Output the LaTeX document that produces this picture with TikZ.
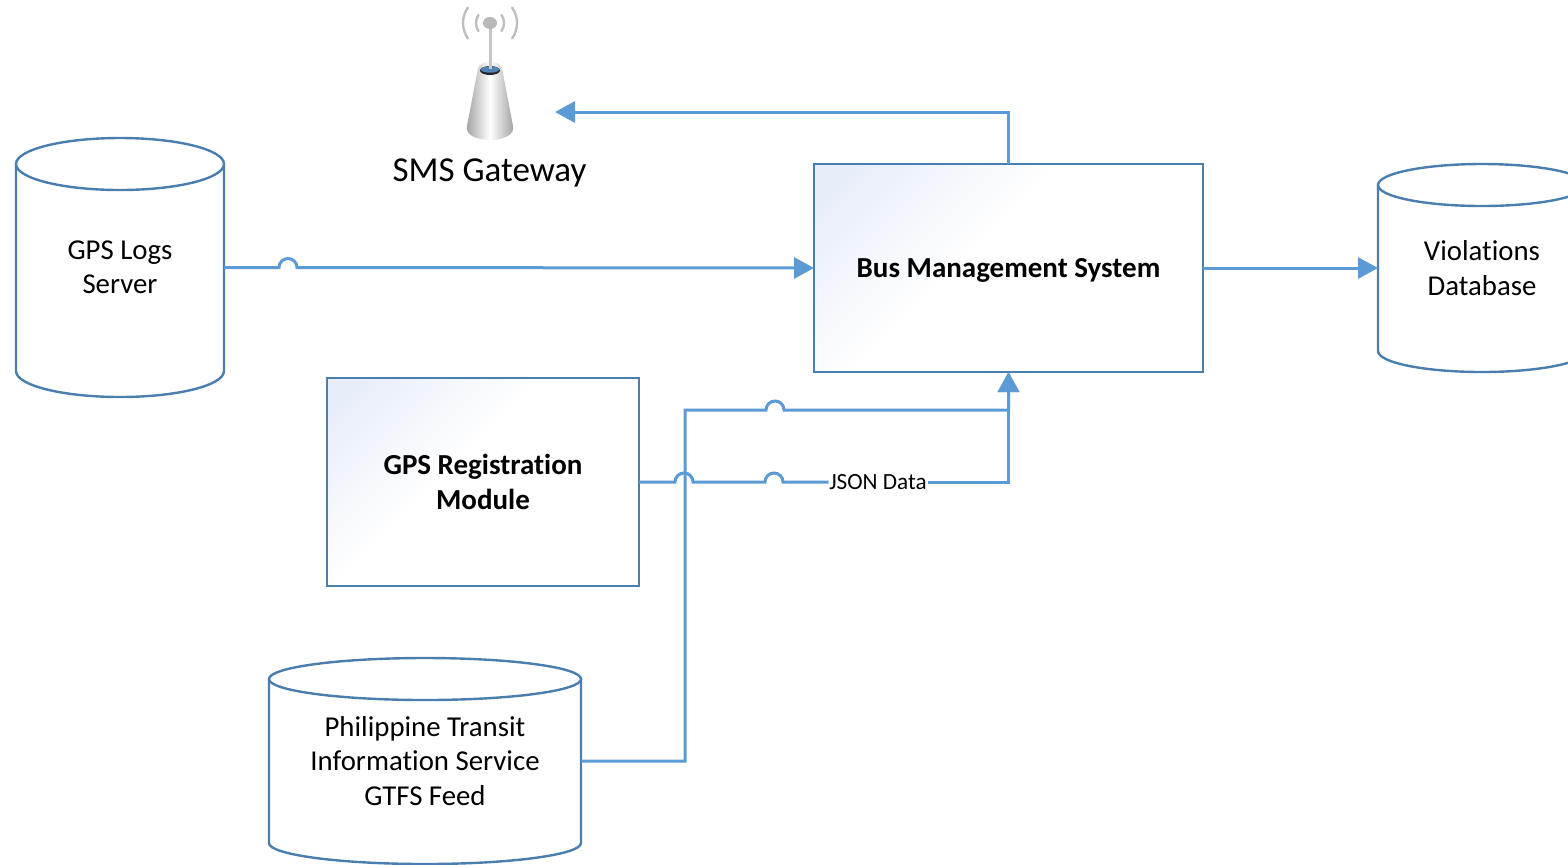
\documentclass[tikz,border=0pt]{standalone}
\usepackage{fontspec}
\setmainfont{Carlito}[RawFeature={-liga}]
\usetikzlibrary{arrows.meta,calc}
\definecolor{conn}{HTML}{5B9BD5}
\definecolor{edge}{HTML}{4A7EAF}
\definecolor{tint}{HTML}{E8EEF9}
\pgfdeclareverticalshading{cornerfade}{100bp}{color(0bp)=(white); color(56bp)=(white); color(80bp)=(tint); color(100bp)=(tint)}
\tikzset{
  conn/.style={draw=conn,line width=1.5pt},
  tip/.style={-{Triangle[length=10pt,width=10.5pt,fill=conn]}},
  cylline/.style={draw=edge,line width=1.2pt,fill=white},
  cyltext/.style={align=center,font=\fontsize{14.4}{17.2}\selectfont,inner sep=0pt,outer sep=0pt},
  procbox/.style={draw=edge,line width=1.2pt,shading=cornerfade,shading angle=45,
    align=center,font=\fontsize{14.5}{17.2}\selectfont\bfseries,inner sep=0pt,outer sep=0pt},
  jsonlabel/.style={font=\fontsize{11.6}{13}\selectfont,inner sep=0.4pt,outer sep=0pt}
}
% name, x1, y1, x2, y2, ry, text
\newcommand\cylshape[7]{%
  \draw[cylline] (#2,#3+#6) -- (#2,#5-#6)
    arc[start angle=180,end angle=0,x radius={(#4-#2)/2},y radius=#6]
    -- (#4,#3+#6);
  \draw[cylline] ({(#2+#4)/2},#3+#6) ellipse[x radius={(#4-#2)/2},y radius=#6];
  \node[cyltext,minimum width={(#4-#2)*0.5pt},minimum height={(#5-#3)*0.5pt}] (#1) at ({(#2+#4)/2},{(#3+#5)/2}) {#7};
}
\begin{document}
\begin{tikzpicture}[x=0.5pt,y=-0.5pt]
\useasboundingbox (0,0) rectangle (1568,864);
\fill[white] (0,0) rectangle (1568,864);

\cylshape{logs}{16}{138}{224}{397}{26}{GPS Logs\\Server}
\cylshape{viol}{1378}{164}{1586}{372}{21}{Violations\\Database}
\cylshape{ptis}{269}{658}{581}{864}{21}{Philippine Transit\\Information Service\\GTFS Feed}

\node[procbox,minimum width=194.5pt,minimum height=104pt] (bms) at (1008.5,268) {\rule{0pt}{12.3pt}Bus Management System};
\node[procbox,minimum width=156pt,minimum height=104pt] (reg) at (483,482) {GPS Registration\\Module};

% SMS gateway icon
\draw[line width=1.2pt,draw=black!25,line cap=round]
  (490,23)++(-35:14) arc[start angle=-35,end angle=35,radius=14]
  (490,23)++(145:14) arc[start angle=145,end angle=215,radius=14]
  (490,23)++(-35:27) arc[start angle=-35,end angle=35,radius=27]
  (490,23)++(145:27) arc[start angle=145,end angle=215,radius=27];
\shade[left color=black!38,right color=black!38,middle color=white]
  (478,68) .. controls (481,60) and (499,60) .. (502,68)
  -- (513,126) .. controls (515,135) and (503,140) .. (490,140)
  .. controls (477,140) and (465,135) .. (467,126) -- cycle;
\fill[black!85] (490,70.5) ellipse[x radius=10,y radius=4.5];
\fill[conn!85!black] (490,69.5) ellipse[x radius=9,y radius=3.2];
\draw[line width=1.5pt,draw=black!22] (490,23) -- (490,69);
\fill[black!28] (490,23) ellipse[x radius=7,y radius=6];
\node[font=\fontsize{17.5}{20}\selectfont,inner sep=0pt] (smslabel) at (489.5,173) {SMS Gateway};
\coordinate (smsin) at (555,112);

\node[jsonlabel] (json) at (878,482) {JSON Data};
\coordinate (elbow) at (685,410);

% connectors
\draw[conn,tip] (logs.east) -- ++(55,0) arc[start angle=180,end angle=360,radius=9] -- (bms.west);
\draw[conn,tip] (bms.east) -- (viol.west);
\draw[conn,tip] (bms.north) |- (smsin);
\draw[conn] (reg.east) -- ++(36,0) arc[start angle=180,end angle=360,radius=9]
  -- ++(72,0) arc[start angle=180,end angle=360,radius=9] -- (json.west);
\draw[conn,tip] (json.east) -| (bms.south);
\draw[conn,tip] (ptis.east) -| (elbow) -- ++(81,0) arc[start angle=180,end angle=360,radius=9]
  -- (bms.south |- elbow) -- (bms.south);
\end{tikzpicture}
\end{document}
